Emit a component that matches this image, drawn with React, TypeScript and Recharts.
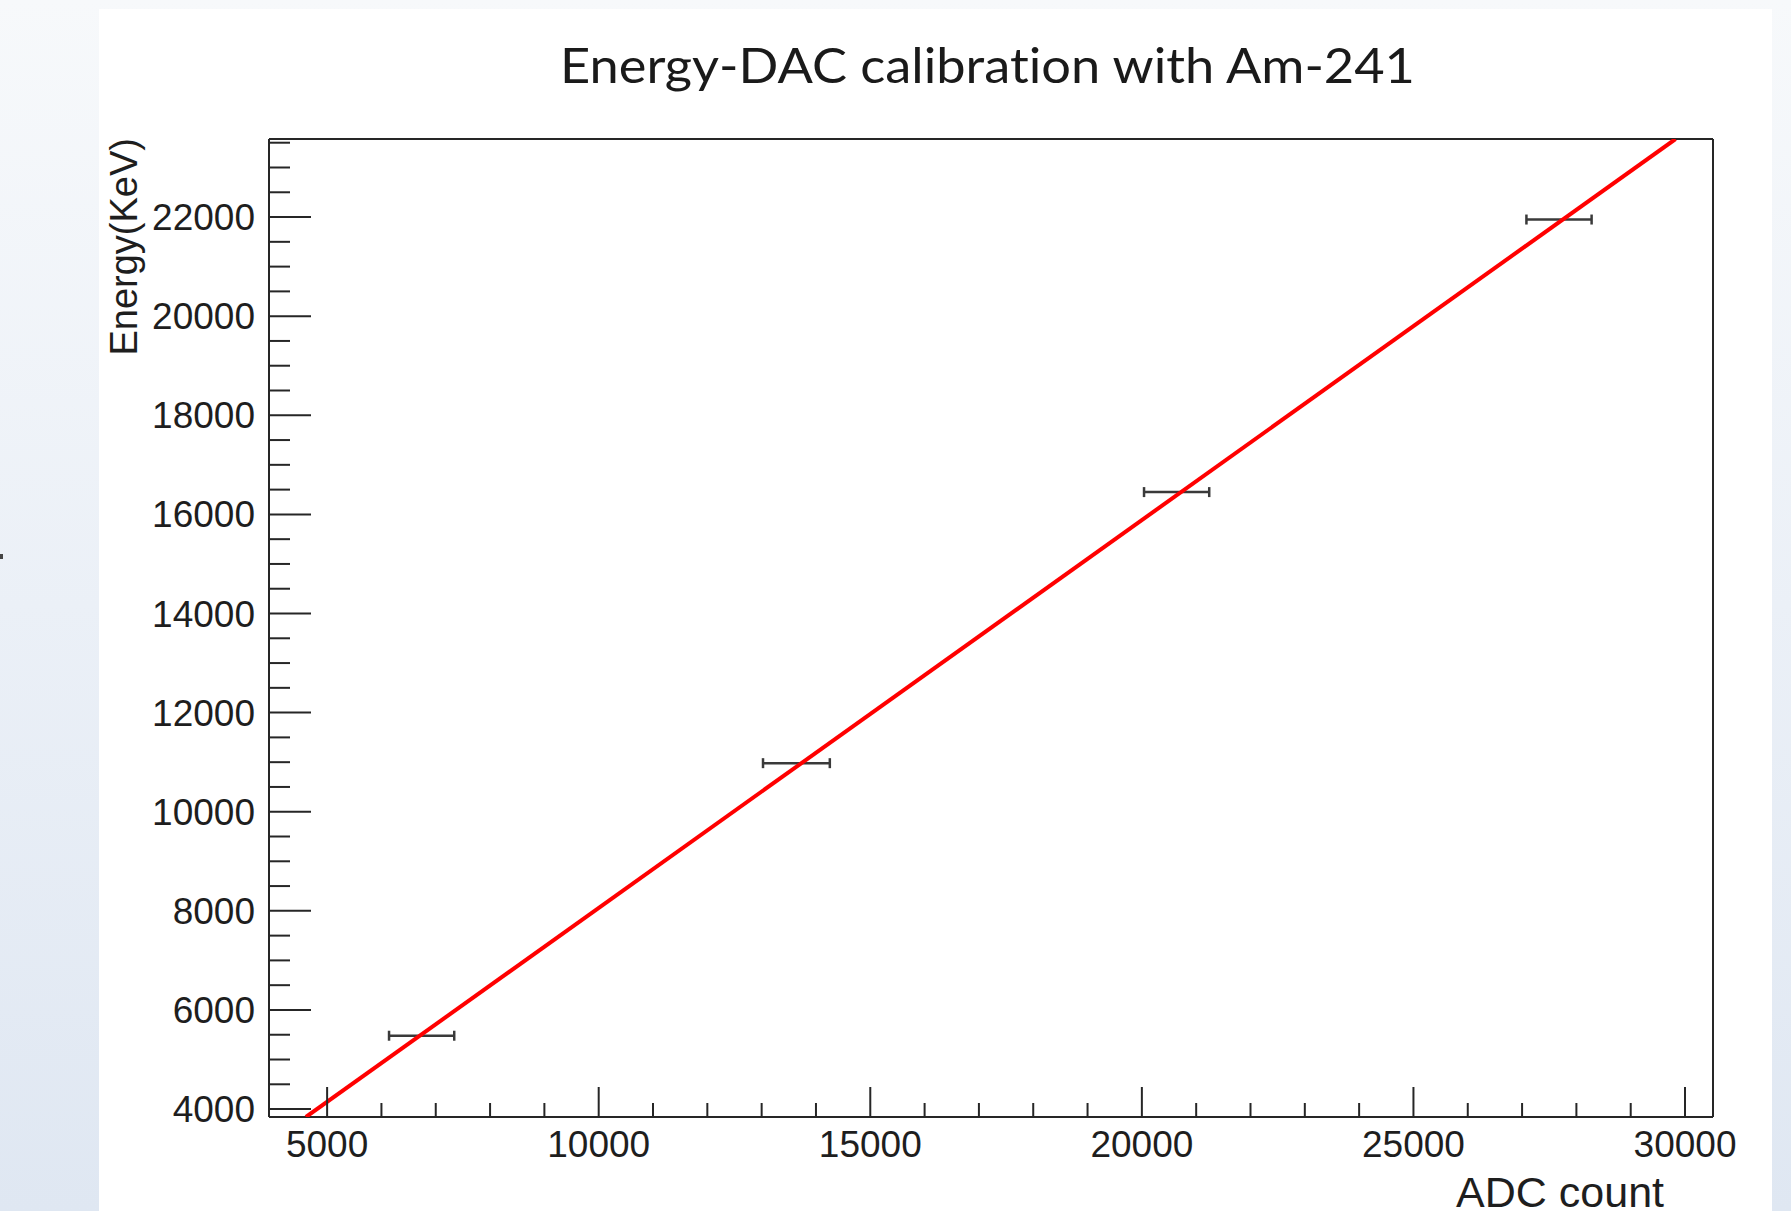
import React from 'react';
import { ScatterChart, Scatter, XAxis, YAxis, ErrorBar, ReferenceLine } from 'recharts';

// measured points (ADC count vs energy in keV), x error from the peak width
const adcCounts = [6740, 13640, 20640, 27680];
const energies = [5480, 10980, 16450, 21950];
const adcErrors = [600, 615, 600, 600];

// linear fit, read at the two frame edges
const fitAdc = [4610, 29825];
const fitEnergy = [3840, 23575];

const xDomain = [3930, 30515];
const yDomain = [3840, 23575];

const xMajorTicks = [5000, 10000, 15000, 20000, 25000, 30000];
const yMajorTicks = [4000, 6000, 8000, 10000, 12000, 14000, 16000, 18000, 20000, 22000];
const xMinorStep = 1000;
const yMinorStep = 500;

const subdivide = (majors: number[], step: number, max: number) => {
    const out: number[] = [];
    for (let v = majors[0]; v <= max; v += step) out.push(v);
    return out;
};
const xTicks = subdivide(xMajorTicks, xMinorStep, xDomain[1]);
const yTicks = subdivide(yMajorTicks, yMinorStep, yDomain[1]);

const points = adcCounts.map((x, i) => ({ x, y: energies[i], ex: adcErrors[i] }));
const fitLine = fitAdc.map((x, i) => ({ x, y: fitEnergy[i] }));

const INK = '#262626';
const LABEL_FONT = '"Liberation Sans", Arial, Helvetica, sans-serif';

const XTick = (props: any) => {
    const { x, y, payload } = props;
    const major = xMajorTicks.includes(payload.value);
    return (
        <g>
            <line x1={x} x2={x} y1={y} y2={y - (major ? 30 : 14)} stroke={INK} strokeWidth={2} />
            {major && (
                <text x={x} y={y + 40} textAnchor="middle" fontFamily={LABEL_FONT} fontSize={37} fill="#1e1e1e">
                    {payload.value}
                </text>
            )}
        </g>
    );
};

const YTick = (props: any) => {
    const { x, y, payload } = props;
    const major = yMajorTicks.includes(payload.value);
    return (
        <g>
            <line x1={x} x2={x + (major ? 42 : 21)} y1={y} y2={y} stroke={INK} strokeWidth={2} />
            {major && (
                <text x={x - 14} y={y + 13} textAnchor="end" fontFamily={LABEL_FONT} fontSize={37} fill="#1e1e1e">
                    {payload.value}
                </text>
            )}
        </g>
    );
};

const NoMarker = () => <g />;

const App: React.FC = () => {
    return (
        <div style={{ position: 'absolute', left: 0, top: 0, width: 1791, height: 1211, overflow: 'hidden',
            background: 'linear-gradient(to bottom, #f7f9fb 0%, #ebf0f7 50%, #dfe7f2 100%)' }}>
            <div style={{ position: 'absolute', left: 0, top: 554, width: 3, height: 5, background: '#444' }} />
            <div style={{ position: 'absolute', left: 99, top: 9, width: 1673, height: 1202, background: '#ffffff' }} />
            <div style={{ position: 'absolute', left: 0, top: 0 }}>
                <ScatterChart width={1791} height={1211} margin={{ top: 139, right: 78, bottom: 0, left: 0 }}>
                    <XAxis type="number" dataKey="x" domain={xDomain} allowDataOverflow ticks={xTicks} interval={0}
                        height={94} tickSize={0} tickMargin={0} tickLine={false} tick={<XTick />}
                        axisLine={{ stroke: INK, strokeWidth: 2 }} />
                    <YAxis type="number" dataKey="y" domain={yDomain} allowDataOverflow ticks={yTicks} interval={0}
                        width={269} tickSize={0} tickMargin={0} tickLine={false} tick={<YTick />}
                        axisLine={{ stroke: INK, strokeWidth: 2 }} />
                    <ReferenceLine y={yDomain[1]} stroke={INK} strokeWidth={2} ifOverflow="visible" />
                    <ReferenceLine x={xDomain[1]} stroke={INK} strokeWidth={2} ifOverflow="visible" />
                    <Scatter data={fitLine} fill="#ff0000" line={{ stroke: '#ff0000', strokeWidth: 4 }}
                        shape={NoMarker} legendType="none" isAnimationActive={false} />
                    <Scatter data={points} fill="#333333" shape={NoMarker} legendType="none" isAnimationActive={false}>
                        <ErrorBar dataKey="ex" direction="x" width={5} stroke="#3a3a3a" strokeWidth={2.5} isAnimationActive={false} />
                    </Scatter>
                </ScatterChart>
            </div>
            <svg width={1791} height={1211} style={{ position: 'absolute', left: 0, top: 0, pointerEvents: 'none' }}>
                <text x={560} y={83} fontFamily="Lato, 'Open Sans', sans-serif" fontSize={49} fill="#1a1a1a"
                    textLength={855} lengthAdjust="spacingAndGlyphs" style={{ fontVariantLigatures: 'none' }}>
                    Energy-DAC calibration with Am-241
                </text>
                <text x={1664} y={1207} textAnchor="end" fontFamily={LABEL_FONT} fontSize={43} fill="#1e1e1e">
                    ADC count
                </text>
                <text transform="translate(137,138) rotate(-90)" textAnchor="end" fontFamily={LABEL_FONT}
                    fontSize={38} fill="#1e1e1e">
                    Energy(KeV)
                </text>
            </svg>
        </div>
    );
};

export default App;
